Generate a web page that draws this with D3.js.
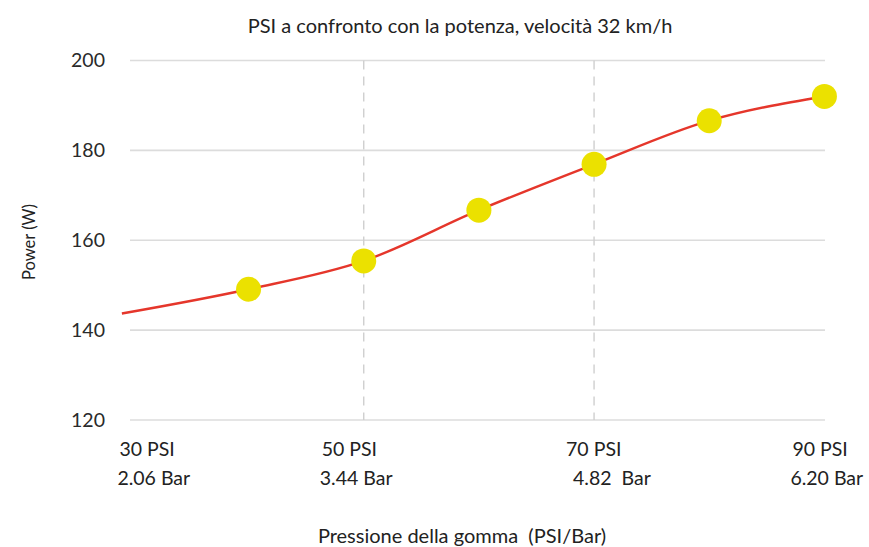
<!DOCTYPE html>
<html>
<head>
<meta charset="utf-8">
<script src="https://cdn.jsdelivr.net/npm/d3@7/dist/d3.min.js"></script>
<style>
  html, body { margin: 0; padding: 0; background: #fff; }
  text { font-family: Lato, "Open Sans", sans-serif; fill: #222; }
</style>
</head>
<body>
<svg id="chart" width="869" height="547"></svg>
<script>
// Pressure (PSI) vs required power (W) at 32 km/h
const curvePsi   = [29, 40, 50, 60, 70, 80, 90];
const curvePower = [143.7, 149.1, 155.4, 166.7, 176.9, 186.6, 192.0];
const pointPsi   = [40, 50, 60, 70, 80, 90];
const pointPower = [149.1, 155.4, 166.7, 176.9, 186.6, 192.0];
const yTicks     = [120, 140, 160, 180, 200];
const xTicks     = [30, 50, 70, 90];
const psiLabels  = ["30 PSI", "50 PSI", "70 PSI", "90 PSI"];
const barLabels  = ["2.06 Bar", "3.44 Bar", "4.82  Bar", "6.20 Bar"];
const dashedAt   = [50, 70];

const svg = d3.select("#chart");

const x = d3.scaleLinear().domain([30, 90]).range([133.4, 824.4]);
const y = d3.scaleLinear().domain([120, 200]).range([420, 60.5]);

// title
svg.append("text")
  .attr("x", 460).attr("y", 33)
  .attr("text-anchor", "middle")
  .style("font-size", "20px")
  .text("PSI a confronto con la potenza, velocità 32 km/h");

// y axis labels
const yAxis = d3.axisLeft(y).tickValues(yTicks).tickSize(0).tickPadding(0);
const gy = svg.append("g").attr("transform", "translate(105,0)").call(yAxis);
gy.select(".domain").remove();
gy.selectAll("text")
  .style("font-size", "19.5px")
  .style("font-family", "Lato, sans-serif")
  .style("fill", "#2a2a2a")
  .attr("dy", "0.33em");

// horizontal grid
svg.append("g").selectAll("line").data(yTicks).join("line")
  .attr("x1", 130).attr("x2", 825)
  .attr("y1", d => y(d)).attr("y2", d => y(d))
  .attr("stroke", "#dcdcdc").attr("stroke-width", 1.6);

// dashed verticals
svg.append("g").selectAll("line").data(dashedAt).join("line")
  .attr("x1", d => x(d)).attr("x2", d => x(d))
  .attr("y1", y(200)).attr("y2", y(120))
  .attr("stroke", "#cfcfcf").attr("stroke-width", 1.4)
  .attr("stroke-dasharray", "9,7");

// x tick labels (two rows), left-anchored next to each tick
const psiShift = [-14, -42, -28, -32];
const barShift = [-16, -44, -21, -34];
const xl = svg.append("g").attr("xml:space", "preserve");
xl.selectAll("text.psi").data(xTicks).join("text")
  .attr("class", "psi")
  .attr("x", (d, i) => x(d) + psiShift[i]).attr("y", 456)
  .style("font-size", "19.5px")
  .text((d, i) => psiLabels[i]);
xl.selectAll("text.bar").data(xTicks).join("text")
  .attr("class", "bar")
  .attr("x", (d, i) => x(d) + barShift[i]).attr("y", 485)
  .style("font-size", "19.5px")
  .style("white-space", "pre")
  .text((d, i) => barLabels[i]);

// axis titles
svg.append("text")
  .attr("x", 462).attr("y", 543)
  .attr("text-anchor", "middle")
  .attr("xml:space", "preserve")
  .style("font-size", "20px")
  .style("white-space", "pre")
  .text("Pressione della gomma  (PSI/Bar)");

svg.append("text")
  .attr("transform", "translate(35,242) rotate(-90)")
  .attr("text-anchor", "middle")
  .style("font-size", "16.5px")
  .text("Power (W)");

// curve
const line = d3.line()
  .x(d => x(d[0])).y(d => y(d[1]))
  .curve(d3.curveMonotoneX);
svg.append("path")
  .datum(curvePsi.map((p, i) => [p, curvePower[i]]))
  .attr("d", line)
  .attr("fill", "none")
  .attr("stroke", "#e5362b")
  .attr("stroke-width", 2.4);

// points
svg.append("g").selectAll("circle").data(pointPsi).join("circle")
  .attr("cx", d => x(d))
  .attr("cy", (d, i) => y(pointPower[i]))
  .attr("r", 12.5)
  .attr("fill", "#ebe100");
</script>
</body>
</html>
